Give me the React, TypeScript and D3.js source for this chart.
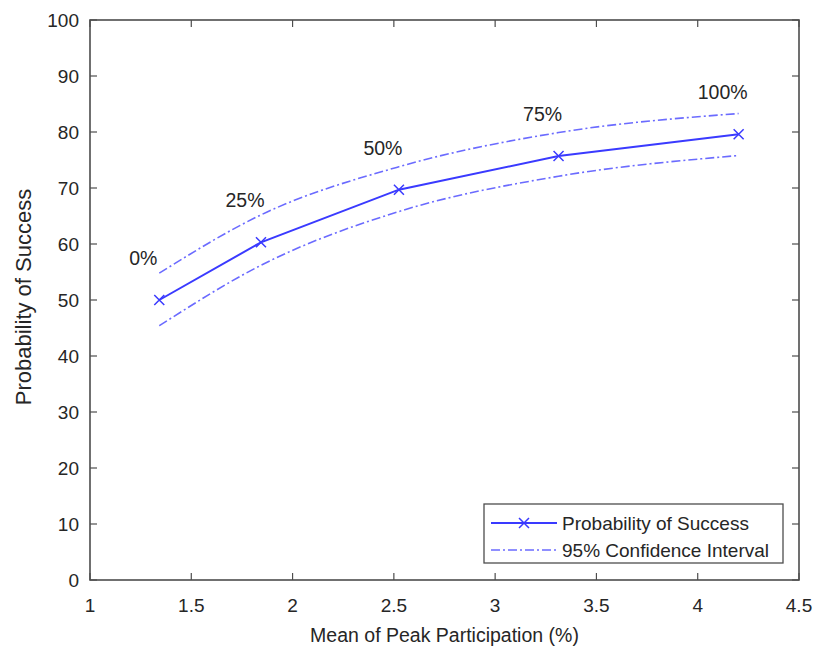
import React from "react";
import * as d3 from "d3";

// Mean peak participation (%) at each participation level
const participation = [1.342, 1.844, 2.525, 3.313, 4.202];
const successProb = [50.0, 60.3, 69.7, 75.7, 79.6];
const ciUpper = [54.8, 65.2, 73.8, 79.9, 83.3];
const ciLower = [45.4, 56.2, 65.8, 72.1, 75.8];
const levelLabels = ["0%", "25%", "50%", "75%", "100%"];

const xTicks = [1, 1.5, 2, 2.5, 3, 3.5, 4, 4.5];
const yTicks = [0, 10, 20, 30, 40, 50, 60, 70, 80, 90, 100];

const W = 814;
const H = 650;
const M = { left: 90, right: 799, top: 20, bottom: 580 };

const FONT = "'Liberation Sans', Arial, Helvetica, sans-serif";
const AXIS = "#4d4d4d";
const TEXT = "#262626";
const MAIN = "#3a3aff";
const CI = "#6b6bff";

export default function App() {
  const x = d3.scaleLinear().domain([1, 4.5]).range([M.left, M.right]);
  const y = d3.scaleLinear().domain([0, 100]).range([M.bottom, M.top]);

  const pts = participation.map((p, i) => ({ p, v: successProb[i], u: ciUpper[i], l: ciLower[i] }));

  const meanLine = d3
    .line<{ p: number; v: number }>()
    .x((d) => x(d.p))
    .y((d) => y(d.v));
  const upperLine = d3
    .line<{ p: number; u: number }>()
    .x((d) => x(d.p))
    .y((d) => y(d.u))
    .curve(d3.curveMonotoneX);
  const lowerLine = d3
    .line<{ p: number; l: number }>()
    .x((d) => x(d.p))
    .y((d) => y(d.l))
    .curve(d3.curveMonotoneX);

  const dash = "9,3,2,3";
  const tick = 7;
  const ms = 5;

  const cross = (cx: number, cy: number, key: string) => (
    <path
      key={key}
      d={`M${cx - ms},${cy - ms}L${cx + ms},${cy + ms}M${cx - ms},${cy + ms}L${cx + ms},${cy - ms}`}
      stroke={MAIN}
      strokeWidth={1.5}
      fill="none"
    />
  );

  const legend = { x: 484, y: 504, w: 299, h: 59 };

  return (
    <svg
      width={W}
      height={H}
      style={{ position: "absolute", left: 0, top: 0, background: "#fff" }}
      fontFamily={FONT}
    >
      <rect x={0} y={0} width={W} height={H} fill="#fff" />

      {/* ticks on all four sides, pointing inward */}
      {xTicks.map((t) => (
        <g key={"xt" + t}>
          <line x1={x(t)} x2={x(t)} y1={M.bottom} y2={M.bottom - tick} stroke={AXIS} strokeWidth={1.2} />
          <line x1={x(t)} x2={x(t)} y1={M.top} y2={M.top + tick} stroke={AXIS} strokeWidth={1.2} />
          <text x={x(t)} y={M.bottom + 32} textAnchor="middle" fontSize={19} fill={TEXT}>
            {t}
          </text>
        </g>
      ))}
      {yTicks.map((t) => (
        <g key={"yt" + t}>
          <line x1={M.left} x2={M.left + tick} y1={y(t)} y2={y(t)} stroke={AXIS} strokeWidth={1.2} />
          <line x1={M.right} x2={M.right - tick} y1={y(t)} y2={y(t)} stroke={AXIS} strokeWidth={1.2} />
          <text x={79} y={y(t) + 7} textAnchor="end" fontSize={19} fill={TEXT}>
            {t}
          </text>
        </g>
      ))}

      <rect
        x={M.left}
        y={M.top}
        width={M.right - M.left}
        height={M.bottom - M.top}
        fill="none"
        stroke={AXIS}
        strokeWidth={1.6}
      />

      {/* confidence band edges */}
      <path d={upperLine(pts) || ""} fill="none" stroke={CI} strokeWidth={1.6} strokeDasharray={dash} />
      <path d={lowerLine(pts) || ""} fill="none" stroke={CI} strokeWidth={1.6} strokeDasharray={dash} />

      {/* mean probability */}
      <path d={meanLine(pts) || ""} fill="none" stroke={MAIN} strokeWidth={2} />
      {pts.map((d, i) => cross(x(d.p), y(d.v), "m" + i))}

      {/* participation level annotations */}
      {pts.map((d, i) => (
        <text
          key={"lab" + i}
          x={x(d.p) - 16}
          y={y(d.v) - 35}
          textAnchor="middle"
          fontSize={19.5}
          fill={TEXT}
        >
          {levelLabels[i]}
        </text>
      ))}

      {/* axis titles */}
      <text x={(M.left + M.right) / 2} y={642} textAnchor="middle" fontSize={19.5} fill={TEXT}>
        Mean of Peak Participation (%)
      </text>
      <text
        transform={`translate(31,297) rotate(-90)`}
        textAnchor="middle"
        fontSize={22}
        fill={TEXT}
      >
        Probability of Success
      </text>

      {/* legend */}
      <g>
        <rect x={legend.x} y={legend.y} width={legend.w} height={legend.h} fill="#fff" stroke={AXIS} strokeWidth={1.3} />
        <line x1={491} x2={557} y1={523} y2={523} stroke={MAIN} strokeWidth={2} />
        {cross(524, 523, "legx")}
        <text x={562} y={530} fontSize={19} fill={TEXT}>
          Probability of Success
        </text>
        <line x1={491} x2={557} y1={550} y2={550} stroke={CI} strokeWidth={1.6} strokeDasharray={dash} />
        <text x={562} y={557} fontSize={19} fill={TEXT}>
          95% Confidence Interval
        </text>
      </g>
    </svg>
  );
}
